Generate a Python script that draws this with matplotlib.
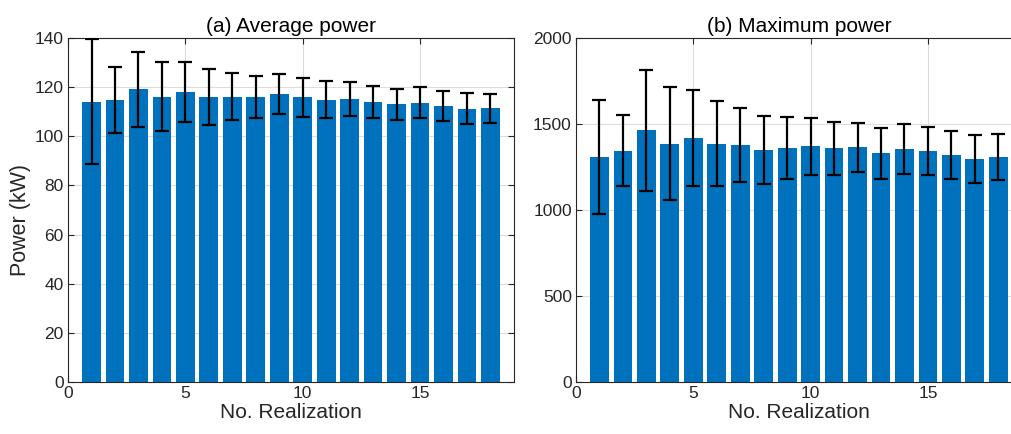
import numpy as np
import matplotlib.pyplot as plt

plt.rcParams["font.family"] = ["Liberation Sans", "DejaVu Sans"]

realization = np.arange(1, 19)

avg_power = [114.0, 114.7, 119.2, 116.1, 118.2, 116.1, 116.1, 115.9, 117.1,
             115.9, 114.9, 115.1, 114.0, 113.0, 113.7, 112.3, 111.3, 111.4]
avg_err = [25.4, 13.5, 15.3, 14.0, 12.2, 11.3, 9.6, 8.5, 8.2,
           7.9, 7.5, 6.8, 6.6, 6.4, 6.2, 6.2, 6.4, 6.0]

max_power = [1310, 1345, 1463, 1386, 1421, 1386, 1378, 1349, 1362,
             1370, 1359, 1364, 1331, 1355, 1343, 1320, 1298, 1308]
max_err = [331, 207, 352, 330, 279, 248, 214, 200, 181,
           165, 153, 141, 148, 146, 140, 141, 139, 134]

bar_color = "#0072BD"
axis_color = "#262626"

fig = plt.figure(figsize=(10.11, 4.34), dpi=100)
ax1 = fig.add_axes([0.0673, 0.1198, 0.441, 0.7926])
ax2 = fig.add_axes([0.5697, 0.1198, 0.441, 0.7926])


def draw_panel(ax, values, errors, ylim, yticks, title):
    ax.bar(realization, values, width=0.8, color=bar_color, zorder=2)
    ax.errorbar(realization, values, yerr=errors, fmt="none", ecolor="black",
                elinewidth=1.6, capsize=5, capthick=1.6, zorder=3)
    ax.set_xlim(0, 19)
    ax.set_ylim(*ylim)
    ax.set_xticks([0, 5, 10, 15])
    ax.set_yticks(yticks)
    ax.grid(True, color="#dcdcdc", linewidth=0.8, zorder=0)
    ax.set_axisbelow(True)
    ax.tick_params(direction="in", top=True, right=True, labelsize=12.5,
                   colors=axis_color, length=4, pad=3)
    for sp in ax.spines.values():
        sp.set_color(axis_color)
        sp.set_linewidth(0.8)
    ax.set_xlabel("No. Realization", fontsize=15, color=axis_color, labelpad=1)
    ax.set_title(title, fontsize=15, color="black", pad=4)


draw_panel(ax1, avg_power, avg_err, (0, 140), np.arange(0, 141, 20),
           "(a) Average power")
ax1.set_ylabel("Power (kW)", fontsize=15.5, color=axis_color)
ax1.yaxis.set_label_coords(-0.084, 0.47)

draw_panel(ax2, max_power, max_err, (0, 2000), np.arange(0, 2001, 500),
           "(b) Maximum power")

fig.savefig("out.png", dpi=100)
